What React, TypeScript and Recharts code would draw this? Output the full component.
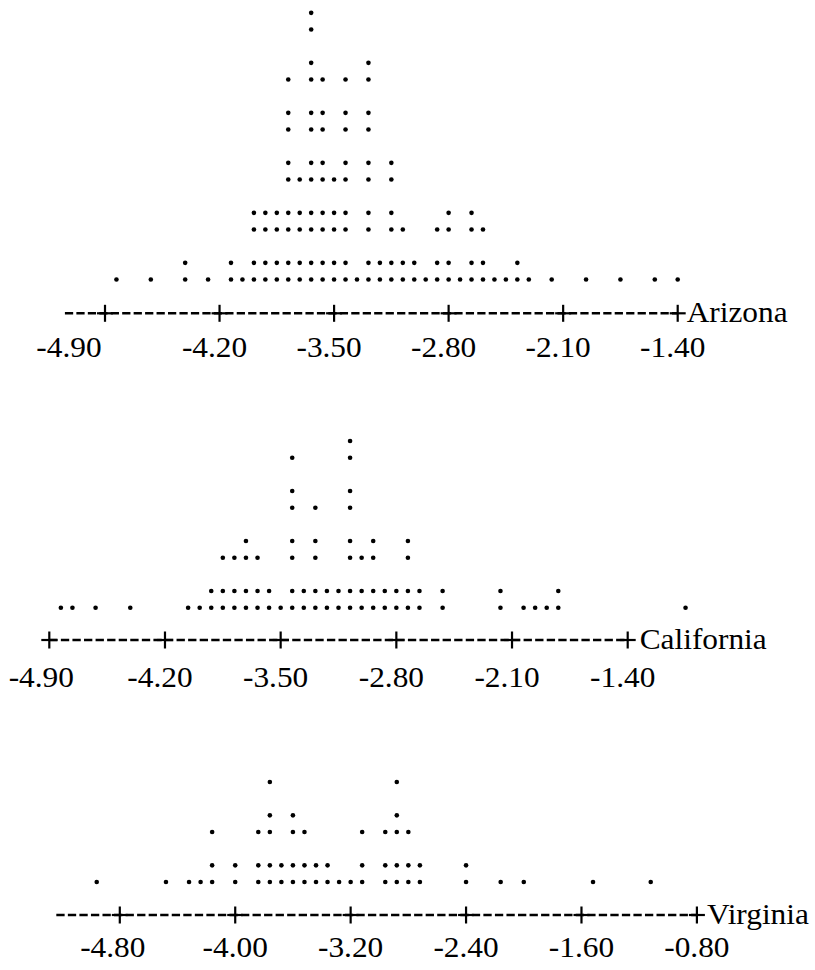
import { ScatterChart, Scatter, XAxis, YAxis, ReferenceLine } from "recharts";

// bin centres and dot counts per state
const arizonaTicks = [-4.9, -4.2, -3.5, -2.8, -2.1, -1.4];
const arizonaBins = [
  -4.83, -4.62, -4.41, -4.27, -4.13, -4.06, -3.99, -3.92, -3.85, -3.78, -3.71, -3.64,
  -3.57, -3.5, -3.43, -3.36, -3.29, -3.22, -3.15, -3.08, -3.01, -2.94, -2.87, -2.8,
  -2.73, -2.66, -2.59, -2.52, -2.45, -2.38, -2.31, -2.17, -1.96, -1.75, -1.54, -1.4,
];
const arizonaCounts = [
  1, 1, 2, 1, 2, 1, 4, 4, 4, 9, 5, 12,
  9, 5, 9, 1, 10, 2, 6, 3, 2, 1, 3, 4,
  1, 4, 3, 1, 1, 2, 1, 1, 1, 1, 1, 1,
];

const californiaTicks = [-4.9, -4.2, -3.5, -2.8, -2.1, -1.4];
const californiaBins = [
  -4.83, -4.76, -4.62, -4.41, -4.06, -3.99, -3.92, -3.85, -3.78, -3.71, -3.64, -3.57,
  -3.5, -3.43, -3.36, -3.29, -3.22, -3.15, -3.08, -3.01, -2.94, -2.87, -2.8, -2.73,
  -2.66, -2.52, -2.17, -2.03, -1.96, -1.89, -1.82, -1.05,
];
const californiaCounts = [
  1, 1, 1, 1, 1, 1, 2, 3, 3, 4, 3, 2,
  1, 7, 2, 5, 2, 2, 8, 3, 4, 2, 2, 4,
  2, 2, 2, 1, 1, 1, 2, 1,
];

const virginiaTicks = [-4.8, -4.0, -3.2, -2.4, -1.6, -0.8];
const virginiaBins = [
  -4.96, -4.48, -4.32, -4.24, -4.16, -4.0, -3.84, -3.76, -3.68, -3.6, -3.52, -3.44,
  -3.36, -3.28, -3.2, -3.12, -2.96, -2.88, -2.8, -2.72, -2.4, -2.16, -2.0, -1.52, -1.12,
];
const virginiaCounts = [
  1, 1, 1, 1, 3, 2, 3, 5, 2, 4, 3, 2,
  2, 1, 1, 3, 3, 5, 3, 2, 2, 1, 1, 1, 1,
];

const W = 815;
const LINE = 50; // one printed line holds two dots (":")
const UNIT = LINE / 3;
const FONT = "'Liberation Serif', 'Times New Roman', Times, serif";
const FONT_SIZE = 28.5;
const STRETCH = 1.1;

// dot i (0-based) of a column: pairs share a line, lines are 3 units apart
const stackY = (i: number) => Math.floor(i / 2) * 3 + (i % 2);

const toPoints = (bins: number[], counts: number[]) =>
  bins.flatMap((b, k) =>
    Array.from({ length: counts[k] }, (_, i) => ({ x: b, y: stackY(i) }))
  );

type PanelProps = {
  name: string;
  bins: number[];
  counts: number[];
  ticks: number[];
  top: number;
  axisY: number;
  baseY: number;
  firstX: number;
  lastX: number;
  lead: number;
  labelDx: number;
  firstLabelDx: number;
  labelDy: number;
  nameDx: number;
};

const Dot = (p: any) => <circle cx={p.cx} cy={p.cy} r={2.3} fill="#000" />;

const PlusTick = (p: any) => {
  const { x, y, payload, ticks, name, labelDx, firstLabelDx, labelDy, nameDx } = p;
  const first = payload.value === ticks[0];
  const last = payload.value === ticks[ticks.length - 1];
  const dx = first ? firstLabelDx : labelDx;
  return (
    <g>
      <line x1={x - 8} x2={x + 8} y1={y} y2={y} stroke="#000" strokeWidth={2.2} />
      <line x1={x} x2={x} y1={y - 8.5} y2={y + 8.5} stroke="#000" strokeWidth={2.2} />
      <text
        transform={`translate(${x + dx},${y + labelDy}) scale(${STRETCH},1)`}
        textAnchor="middle"
        fontFamily={FONT}
        fontSize={FONT_SIZE}
        fill="#000"
      >
        {payload.value.toFixed(2)}
      </text>
      {last && (
        <text
          transform={`translate(${x + nameDx},${y + 8.5}) scale(${STRETCH},1)`}
          fontFamily={FONT}
          fontSize={FONT_SIZE}
          fill="#000"
        >
          {name}
        </text>
      )}
    </g>
  );
};

const DotPanel = (props: PanelProps) => {
  const { bins, counts, ticks, top, axisY, baseY, firstX, lastX, lead } = props;
  const data = toPoints(bins, counts);
  const plotH = axisY - top;
  const axisH = 60;
  const step = ticks[1] - ticks[0];
  const ppu = (lastX - firstX) / (ticks[ticks.length - 1] - ticks[0]);
  const xDomain = [ticks[0] - firstX / ppu, ticks[0] + (W - firstX) / ppu];
  const yMin = -(axisY - baseY) / UNIT;
  const yDomain = [yMin, yMin + plotH / UNIT];
  const col = step / 10;
  const lineStart = ticks[0] - lead * col - (lead > 0 ? col / 2 : 0);
  const dashPx = col * ppu;

  return (
    <div style={{ position: "absolute", left: 0, top }}>
      <ScatterChart
        width={W}
        height={plotH + axisH}
        margin={{ top: 0, right: 0, bottom: 0, left: 0 }}
      >
        <XAxis
          type="number"
          dataKey="x"
          domain={xDomain}
          allowDataOverflow
          ticks={ticks}
          interval={0}
          height={axisH}
          axisLine={false}
          tickLine={false}
          tickSize={0}
          tickMargin={0}
          tick={(t: any) => <PlusTick {...t} {...props} />}
        />
        <YAxis type="number" dataKey="y" domain={yDomain} allowDataOverflow hide />
        <ReferenceLine
          segment={[
            { x: lineStart, y: yMin },
            { x: ticks[ticks.length - 1], y: yMin },
          ]}
          ifOverflow="visible"
          stroke="#000"
          strokeWidth={2.4}
          strokeDasharray={`${dashPx * 0.72} ${dashPx * 0.28}`}
        />
        <Scatter data={data} shape={Dot} isAnimationActive={false} />
      </ScatterChart>
    </div>
  );
};

export default function App() {
  return (
    <div style={{ position: "absolute", left: 0, top: 0, width: W, height: 970, background: "#fff" }}>
      <DotPanel
        name="Arizona"
        bins={arizonaBins}
        counts={arizonaCounts}
        ticks={arizonaTicks}
        top={0}
        axisY={313.3}
        baseY={279.5}
        firstX={105}
        lastX={677.7}
        lead={3}
        labelDx={-5}
        firstLabelDx={-36}
        labelDy={43.4}
        nameDx={9}
      />
      <DotPanel
        name="California"
        bins={californiaBins}
        counts={californiaCounts}
        ticks={californiaTicks}
        top={400}
        axisY={640}
        baseY={607.7}
        firstX={49.3}
        lastX={627.7}
        lead={0}
        labelDx={-5}
        firstLabelDx={-8}
        labelDy={47}
        nameDx={12}
      />
      <DotPanel
        name="Virginia"
        bins={virginiaBins}
        counts={virginiaCounts}
        ticks={virginiaTicks}
        top={740}
        axisY={915}
        baseY={882}
        firstX={119.8}
        lastX={696.9}
        lead={5}
        labelDx={0}
        firstLabelDx={-7}
        labelDy={42}
        nameDx={10}
      />
    </div>
  );
}
